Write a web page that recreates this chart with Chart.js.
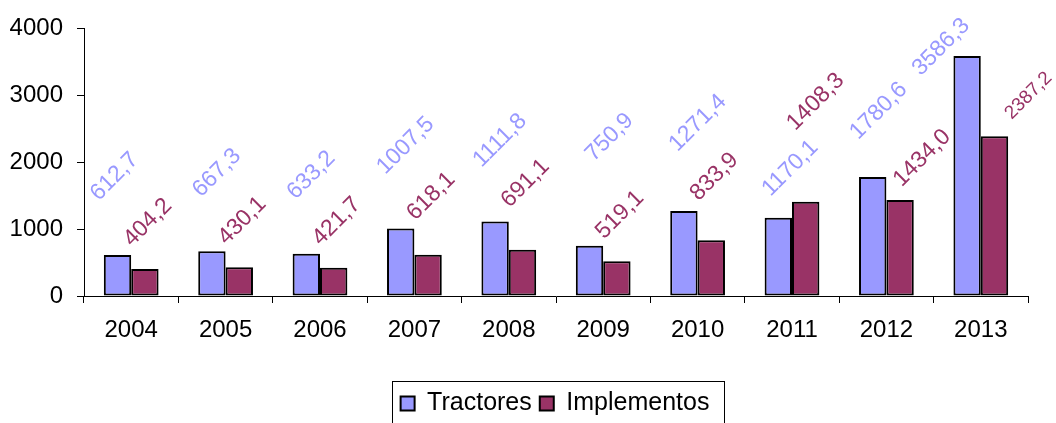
<!DOCTYPE html>
<html>
<head>
<meta charset="utf-8">
<script src="https://cdn.jsdelivr.net/npm/chart.js@4/dist/chart.umd.min.js"></script>
<style>
  html, body { margin: 0; padding: 0; background: #fff; }
  #wrap { width: 1056px; height: 423px; }
</style>
</head>
<body>
<div id="wrap"><canvas id="chart-canvas" width="1056" height="423"></canvas></div>
<script>
const years = ['2004', '2005', '2006', '2007', '2008', '2009', '2010', '2011', '2012', '2013'];
const tractores = [612.7, 667.3, 633.2, 1007.5, 1111.8, 750.9, 1271.4, 1170.1, 1780.6, 3586.3];
const implementos = [404.2, 430.1, 421.7, 618.1, 691.1, 519.1, 833.9, 1408.3, 1434.0, 2387.2];
const yTicks = [0, 1000, 2000, 3000, 4000];

const FONT = '"Liberation Sans", Arial, sans-serif';

// where each rotated value label sits relative to its bar top
const labelDefaults = [{dx: 5, gap: 52, size: 23}, {dx: 3, gap: 20, size: 23}];
const labelTweaks = {
    '0:0': {dx: -3},
    '0:5': {dx: 20, gap: 82},
    '0:6': {dx: 14, gap: 57},
    '0:7': {dx: 12, gap: 19},
    '0:8': {dx: 6, gap: 35},
    '0:9': {dx: -26, gap: -22},
    '1:3': {gap: 32},
    '1:4': {gap: 40},
    '1:6': {gap: 37},
    '1:7': {dx: 10, gap: 69},
    '1:8': {dx: 22, gap: 11},
    '1:9': {dx: 34, gap: 15, size: 19},
};

function fmt(v) {
    return v.toFixed(1).replace('.', ',');
}

const valueLabels = {
    id: 'valueLabels',
    afterDatasetsDraw(chart) {
        const ctx = chart.ctx;
        chart.data.datasets.forEach((ds, di) => {
            const meta = chart.getDatasetMeta(di);
            meta.data.forEach((bar, i) => {
                const o = Object.assign({}, labelDefaults[di], labelTweaks[di + ':' + i] || {});
                const text = fmt(ds.data[i]);
                ctx.save();
                ctx.font = o.size + 'px ' + FONT;
                const w = ctx.measureText(text).width;
                const h = o.size * 0.75;
                const half = (w + h) / (2 * Math.SQRT2);
                ctx.translate(bar.x + o.dx, bar.y - o.gap - half);
                ctx.rotate(-Math.PI / 4);
                ctx.fillStyle = ds.labelColor;
                ctx.textAlign = 'center';
                ctx.textBaseline = 'middle';
                ctx.fillText(text, 0, 0);
                ctx.restore();
            });
        });
    }
};

// the original legend sits a bit right of centre and has a frame
const legendFrame = {
    id: 'legendFrame',
    afterLayout(chart) {
        const lg = chart.legend;
        lg.left += 41;
        lg.right += 41;
        lg.top += 3;
        lg.bottom += 3;
    },
    afterDraw(chart) {
        const boxes = chart.legend.legendHitBoxes;
        if (!boxes || !boxes.length) return;
        const first = boxes[0];
        const last = boxes[boxes.length - 1];
        const ctx = chart.ctx;
        ctx.save();
        ctx.strokeStyle = '#000';
        ctx.lineWidth = 1;
        const left = Math.round(first.left - 9) + 0.5;
        const right = Math.round(last.left + last.width + 15) + 0.5;
        const top = Math.round(first.top - 10) + 0.5;
        const bottom = Math.round(first.top + first.height + 8) + 0.5;
        ctx.strokeRect(left, top, right - left, bottom - top);
        ctx.restore();
    }
};

const ctx = document.querySelector('#chart-canvas').getContext('2d');
new Chart(ctx, {
    type: 'bar',
    data: {
        labels: years,
        datasets: [
            {
                label: 'Tractores',
                data: tractores,
                backgroundColor: '#9999FF',
                borderColor: '#000',
                borderWidth: 2,
                borderSkipped: false,
                labelColor: '#9999FF',
            },
            {
                label: 'Implementos',
                data: implementos,
                backgroundColor: '#993366',
                borderColor: '#000',
                borderWidth: 2,
                borderSkipped: false,
                labelColor: '#993366',
            },
        ],
    },
    options: {
        responsive: false,
        animation: false,
        layout: {
            padding: {top: 27, right: 28, left: 0, bottom: 0},
        },
        datasets: {
            bar: {
                categoryPercentage: 0.58,
                barPercentage: 1.0,
            },
        },
        scales: {
            x: {
                afterFit: function(scale) { scale.height = 84; },
                grid: {
                    drawOnChartArea: false,
                    tickLength: 7,
                    color: '#000',
                },
                border: {color: '#000', width: 1},
                ticks: {
                    color: '#000',
                    padding: 13,
                    font: {family: FONT, size: 24},
                    maxRotation: 0,
                },
            },
            y: {
                min: 0,
                max: 4000,
                afterFit: function(scale) { scale.width = 84; },
                afterBuildTicks: function(scale) {
                    scale.ticks = yTicks.map(v => ({value: v}));
                },
                grid: {
                    drawOnChartArea: false,
                    tickLength: 7,
                    color: '#000',
                },
                border: {color: '#000', width: 1},
                ticks: {
                    color: '#000',
                    padding: 14,
                    font: {family: FONT, size: 24},
                    callback: v => String(v),
                },
            },
        },
        plugins: {
            legend: {
                position: 'bottom',
                labels: {
                    color: '#000',
                    boxWidth: 14,
                    boxHeight: 14,
                    padding: 8,
                    font: {family: FONT, size: 25},
                },
            },
            tooltip: {enabled: false},
        },
    },
    plugins: [valueLabels, legendFrame],
});
</script>
</body>
</html>
